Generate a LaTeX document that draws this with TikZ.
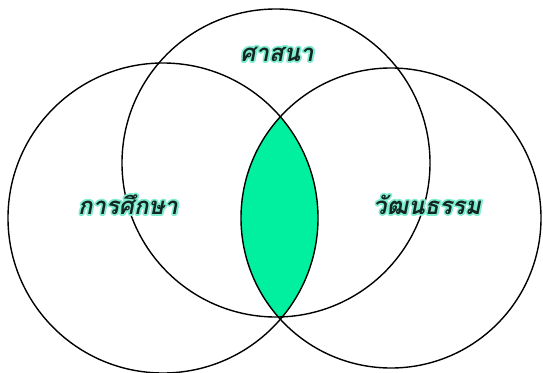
\documentclass[tikz,border=0pt]{standalone}
\usepackage{fontspec}
\newfontfamily\thaifont[Script=Thai,FakeSlant=0.2]{Loma}
\definecolor{lensgreen}{RGB}{0,240,160}
\definecolor{inkdark}{RGB}{20,38,32}
% halo behind a label: stroke-only copy in mint, then the dark text on top
\newcommand\glowlabel[1]{\leavevmode\rlap{\special{pdf:literal direct 1 Tr 3.6 w 1 j 0.50 0.93 0.82 RG}#1\special{pdf:literal direct 0 Tr}}#1}

\begin{document}
\begin{tikzpicture}[x=1pt, y=-1pt,
  ring/.style={draw, line width=1.4pt},
  topic/.style={font=\thaifont\bfseries\fontsize{24}{28}\selectfont, text=inkdark, inner sep=0pt, anchor=base}
]
\useasboundingbox (0,0) rectangle (543,372);
% shared part of left and right circles
\begin{scope}
  \clip (163,218) circle (155pt);
  \fill[lensgreen] (391,218) circle (150pt);
\end{scope}
\draw[ring] (163,218) circle (155pt);
\draw[ring] (391,218) circle (150pt);
\draw[ring] (276,163) circle (154pt);
\node[topic] (religion) at (277,61) {\glowlabel{ศาสนา}};
\node[topic] (education) at (128,214) {\glowlabel{การศึกษา}};
\node[topic] (culture) at (427,214) {\glowlabel{วัฒนธรรม}};
\end{tikzpicture}
\end{document}
